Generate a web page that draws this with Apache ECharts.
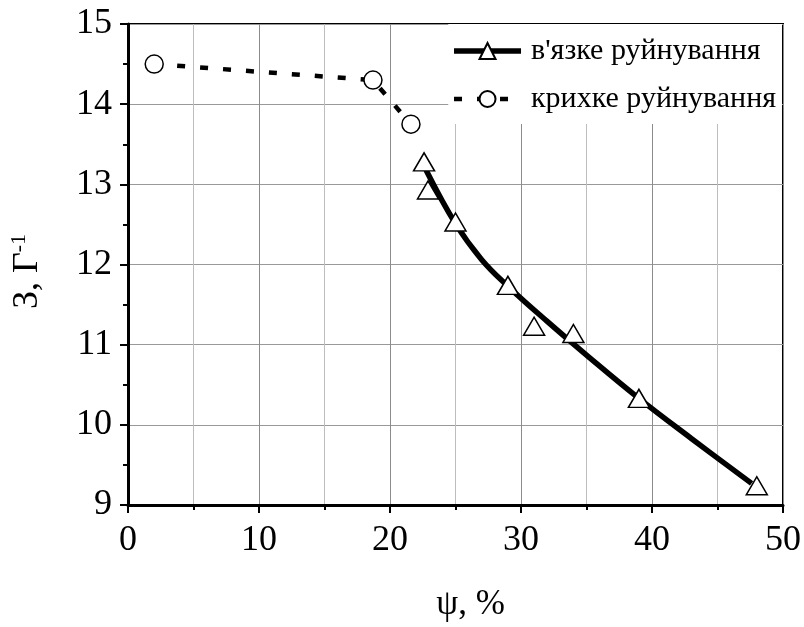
<!DOCTYPE html>
<html>
<head>
<meta charset="utf-8">
<script src="https://cdn.jsdelivr.net/npm/echarts@6/dist/echarts.min.js"></script>
<style>
html,body{margin:0;padding:0;background:#fff;}
#chart{width:804px;height:627px;}
</style>
</head>
<body>
<div id="chart"></div>
<script>
// ---- data ----
const brittleName = "крихке руйнування";
const ductileName = "в'язке руйнування";
const brittleX = [2.0, 18.7, 21.6];
const brittleY = [14.50, 14.30, 13.75];
const ductileX = [22.6, 22.9, 25.0, 29.0, 31.0, 34.0, 39.0, 48.0];
const ductileY = [13.28, 12.93, 12.53, 11.74, 11.23, 11.14, 10.33, 9.24];
const fitX = [22.75, 25, 27, 29, 32, 35, 39, 43, 47.6];
const fitY = [13.18, 12.51, 12.06, 11.73, 11.29, 10.87, 10.33, 9.83, 9.27];
const xTicks = [0, 10, 20, 30, 40, 50];
const yTicks = [9, 10, 11, 12, 13, 14, 15];

const zip = (xs, ys) => xs.map((x, i) => [x, ys[i]]);
const FONT = '"Liberation Serif", "Times New Roman", serif';

const chart = echarts.init(document.getElementById('chart'), null, {renderer: 'canvas'});
chart.setOption({
  animation: false,
  backgroundColor: '#fff',
  grid: {left: 123, top: 24, right: 21, bottom: 115, show: true, borderColor: '#000', borderWidth: 2, backgroundColor: 'transparent'},
  legend: {
    top: 24, right: 22,
    orient: 'vertical',
    align: 'left',
    backgroundColor: '#fff',
    padding: [12, 6, 10, 3],
    itemGap: 18,
    itemWidth: 67, itemHeight: 20,
    lineStyle: {width: 'inherit', type: 'inherit'},
    itemStyle: {opacity: 1},
    textStyle: {fontFamily: FONT, fontSize: 30, color: '#000', padding: [0, 0, 0, 5]},
    data: [ductileName, brittleName]
  },
  xAxis: {
    type: 'value', min: xTicks[0], max: xTicks[xTicks.length - 1], interval: 10,
    name: 'ψ, %', nameLocation: 'middle', nameGap: 82,
    nameTextStyle: {fontFamily: FONT, fontSize: 35, color: '#000', padding: [0, 0, 0, 30]},
    axisLine: {show: true, onZero: false, lineStyle: {color: '#000', width: 3}},
    axisTick: {show: true, inside: false, length: 8, lineStyle: {color: '#000', width: 2}},
    minorTick: {show: true, splitNumber: 2, length: 5, lineStyle: {color: '#000', width: 2}},
    axisLabel: {fontFamily: FONT, fontSize: 36, color: '#000', margin: 18},
    splitLine: {show: true, lineStyle: {color: '#8c8c8c', width: 1}},
    minorSplitLine: {show: true, lineStyle: {color: '#bdbdbd', width: 1}}
  },
  yAxis: {
    type: 'value', min: yTicks[0], max: yTicks[yTicks.length - 1], interval: 1,
    name: '{a|З, Г}{b|-1}', nameLocation: 'middle', nameGap: 80, nameRotate: 90,
    nameTextStyle: {
      fontFamily: FONT, color: '#000', padding: [0, 14, 0, 0],
      rich: {
        a: {fontFamily: FONT, fontSize: 36, color: '#000'},
        b: {fontFamily: FONT, fontSize: 22, color: '#000', verticalAlign: 'top', padding: [0, 0, 18, 0]}
      }
    },
    axisLine: {show: true, onZero: false, lineStyle: {color: '#000', width: 3}},
    axisTick: {show: true, inside: false, length: 8, lineStyle: {color: '#000', width: 2}},
    minorTick: {show: true, splitNumber: 2, length: 5, lineStyle: {color: '#000', width: 2}},
    axisLabel: {fontFamily: FONT, fontSize: 36, color: '#000', margin: 16},
    splitLine: {show: true, lineStyle: {color: '#999', width: 1.2}},
    minorSplitLine: {show: false}
  },
  series: [
    {
      name: ductileName, type: 'line', data: zip(fitX, fitY),
      smooth: 0.4, showSymbol: false, symbol: 'triangle', symbolSize: [20, 18],
      itemStyle: {color: '#fff', borderColor: '#000', borderWidth: 1.5, opacity: 1},
      lineStyle: {color: '#000', width: 5.5}, z: 3
    },
    {
      name: ductileName, type: 'scatter', data: zip(ductileX, ductileY),
      symbol: 'triangle', symbolSize: [21, 18],
      itemStyle: {color: '#fff', borderColor: '#000', borderWidth: 1.5, opacity: 1}, z: 4
    },
    {
      name: brittleName, type: 'line', data: zip(brittleX, brittleY),
      symbol: 'circle', symbolSize: 18, showAllSymbol: true,
      itemStyle: {color: '#fff', borderColor: '#000', borderWidth: 1.5, opacity: 1},
      lineStyle: {color: '#000', width: 4.5, type: [8, 15]}, z: 4
    }
  ]
});
</script>
</body>
</html>
